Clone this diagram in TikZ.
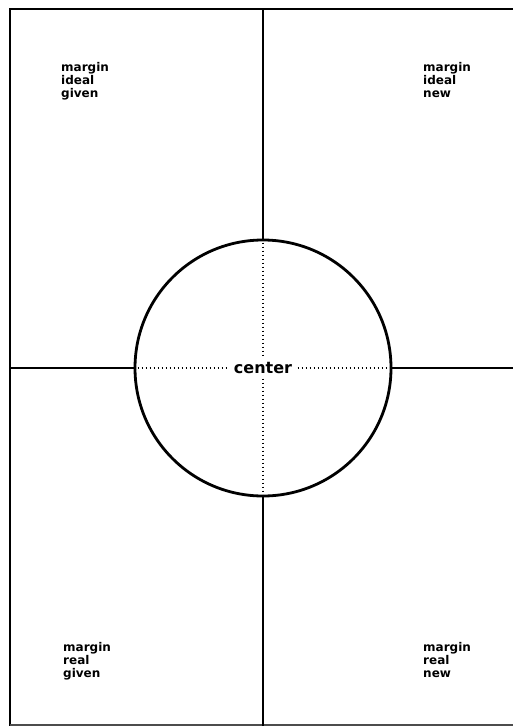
\documentclass[tikz,border=0pt]{standalone}
\usepackage{fontspec}
\setmainfont{DejaVu Sans}
\begin{document}
\begin{tikzpicture}[x=1pt,y=-1pt,
  heavy/.style={line width=2.8pt, line cap=rect},
  dotline/.style={line width=1.5pt, dash pattern=on 1.5pt off 2.5pt},
  corner/.style={anchor=north west, inner sep=0pt, align=left,
    font=\bfseries\fontsize{12}{13}\selectfont},
  ring/.style={circle, draw, line width=2.8pt, minimum size=256pt, inner sep=0pt}]
\useasboundingbox (0,0) rectangle (512,727);
\coordinate (tl) at (10,9);
\coordinate (tr) at (514,9);
\coordinate (bl) at (10,725);
\coordinate (br) at (514,725);
\coordinate (ml) at (10,368);
\coordinate (mr) at (514,368);
\coordinate (mt) at (263,9);
\coordinate (mb) at (263,725);
% frame
\draw[heavy] (tr) -- (tl) -- (bl);
\draw[line width=1.8pt, black!70] (bl) -- (br);
% circle
\node[ring] (c) at (263,368) {};
% cross lines
\draw[heavy] (ml) -- (c.west);
\draw[heavy] (c.east) -- (mr);
\draw[heavy] (mt) -- (c.north);
\draw[heavy] (c.south) -- (mb);
% dotted lines
\draw[dotline] (c.west) -- (c.east);
\draw[dotline] (c.north) -- (c.south);
\node[fill=white, inner xsep=5pt, inner ysep=4pt, font=\bfseries\fontsize{16}{16}\selectfont] (ctr) at (c.center) {center};
% corner labels
\node[corner] (q1) at (61,62) {margin\\ideal\\given};
\node[corner] (q2) at (423,62) {margin\\ideal\\new};
\node[corner] (q3) at (63,642) {margin\\real\\given};
\node[corner] (q4) at (423,642) {margin\\real\\new};
\end{tikzpicture}
\end{document}
